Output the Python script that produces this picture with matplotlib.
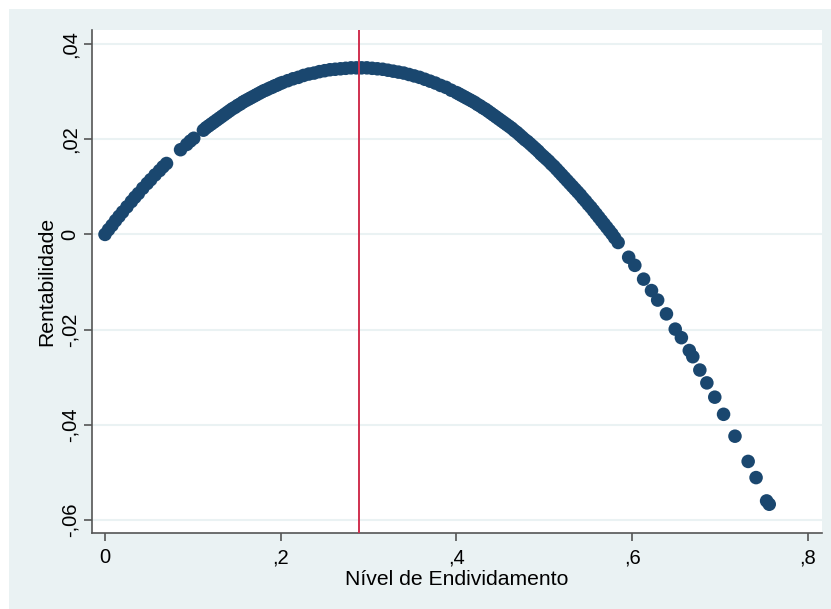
import matplotlib.pyplot as plt
from matplotlib.patches import Rectangle

# Nível de Endividamento (x) e Rentabilidade (y)
endividamento = [
    0.000, 0.004, 0.008, 0.012, 0.016, 0.020, 0.025, 0.030, 0.034, 0.038,
    0.043, 0.048, 0.052, 0.057, 0.062, 0.066, 0.070,
    0.086, 0.093, 0.097, 0.101,
    0.112, 0.118, 0.124, 0.130, 0.136, 0.142, 0.148, 0.154, 0.160, 0.166,
    0.172, 0.178, 0.184, 0.190, 0.196, 0.202, 0.208, 0.214, 0.220, 0.226,
    0.232, 0.238, 0.244, 0.250, 0.256, 0.262, 0.268, 0.274, 0.280, 0.286,
    0.292, 0.298, 0.304, 0.310, 0.316, 0.322, 0.328, 0.334, 0.340, 0.346,
    0.352, 0.358, 0.364, 0.370, 0.376, 0.382, 0.388, 0.394, 0.400, 0.406,
    0.412, 0.418, 0.424, 0.430, 0.436, 0.442, 0.448, 0.454, 0.460, 0.466,
    0.472, 0.478, 0.484, 0.490, 0.496, 0.502, 0.508, 0.514, 0.520, 0.526,
    0.532, 0.538, 0.544, 0.550, 0.556, 0.562, 0.568, 0.574, 0.580, 0.584,
    0.596, 0.603, 0.613, 0.622, 0.629, 0.639, 0.649, 0.656, 0.665, 0.669,
    0.677, 0.685, 0.694, 0.704, 0.717, 0.732, 0.741, 0.753, 0.756,
    # observações intermediárias nos trechos densos
    0.115, 0.121, 0.127, 0.133, 0.139, 0.145, 0.151, 0.157, 0.163, 0.169,
    0.175, 0.181, 0.187, 0.193, 0.199,
    0.403, 0.409, 0.415, 0.421, 0.427, 0.433, 0.439, 0.445, 0.451, 0.457,
    0.463, 0.469, 0.475, 0.481, 0.487, 0.493, 0.499, 0.505, 0.511, 0.517,
    0.523, 0.529, 0.535, 0.541, 0.547, 0.553, 0.559, 0.565, 0.571, 0.577,
]
rentabilidade = [
    0.0000, 0.0010, 0.0019, 0.0029, 0.0038, 0.0047, 0.0058, 0.0069, 0.0078, 0.0086,
    0.0097, 0.0107, 0.0115, 0.0125, 0.0134, 0.0142, 0.0149,
    0.0178, 0.0189, 0.0196, 0.0202,
    0.0219, 0.0228, 0.0236, 0.0244, 0.0252, 0.0260, 0.0267, 0.0274, 0.0281, 0.0287,
    0.0293, 0.0299, 0.0304, 0.0309, 0.0314, 0.0319, 0.0323, 0.0327, 0.0330, 0.0334,
    0.0337, 0.0339, 0.0342, 0.0344, 0.0346, 0.0347, 0.0348, 0.0349, 0.0350, 0.0350,
    0.0350, 0.0350, 0.0349, 0.0348, 0.0347, 0.0345, 0.0343, 0.0341, 0.0339, 0.0336,
    0.0333, 0.0330, 0.0326, 0.0322, 0.0318, 0.0313, 0.0309, 0.0303, 0.0298, 0.0292,
    0.0286, 0.0280, 0.0273, 0.0266, 0.0259, 0.0251, 0.0243, 0.0235, 0.0227, 0.0218,
    0.0209, 0.0199, 0.0190, 0.0180, 0.0169, 0.0159, 0.0148, 0.0137, 0.0125, 0.0113,
    0.0101, 0.0089, 0.0076, 0.0063, 0.0050, 0.0036, 0.0022, 0.0008, -0.0007, -0.0017,
    -0.0048, -0.0065, -0.0094, -0.0118, -0.0138, -0.0167, -0.0199, -0.0217, -0.0244, -0.0257,
    -0.0285, -0.0312, -0.0342, -0.0378, -0.0424, -0.0477, -0.0511, -0.0560, -0.0567,
    0.0224, 0.0232, 0.0240, 0.0248, 0.0256, 0.0264, 0.0271, 0.0278, 0.0284, 0.0290,
    0.0296, 0.0302, 0.0307, 0.0312, 0.0317,
    0.0295, 0.0289, 0.0283, 0.0277, 0.0270, 0.0263, 0.0255, 0.0247, 0.0239, 0.0231,
    0.0223, 0.0214, 0.0204, 0.0195, 0.0185, 0.0175, 0.0164, 0.0154, 0.0143, 0.0131,
    0.0119, 0.0107, 0.0095, 0.0083, 0.0070, 0.0057, 0.0043, 0.0029, 0.0015, 0.0001,
]

# Ponto de máximo (linha vertical)
x_max = 0.2886

x_ticks = [0, 0.2, 0.4, 0.6, 0.8]
x_labels = ['0', ',2', ',4', ',6', ',8']
y_ticks = [0.04, 0.02, 0, -0.02, -0.04, -0.06]
y_labels = [',04', ',02', '0', '-,02', '-,04', '-,06']

plt.rcParams['font.family'] = ['Liberation Sans', 'DejaVu Sans']

fig = plt.figure(figsize=(8.31, 6.09), dpi=100)
fig.patches.append(Rectangle((9 / 831, 0), 1 - 9 / 831, 1 - 9 / 609,
                             transform=fig.transFigure, facecolor='#EAF2F3',
                             edgecolor='none', zorder=-10))

ax = fig.add_axes([92 / 831, 1 - 533 / 609, (821.7 - 92) / 831, (533 - 30) / 609])
ax.set_facecolor('white')

ax.scatter(endividamento, rentabilidade, s=95, color='#1A476F',
           edgecolors='none', zorder=3)
ax.axvline(x_max, color='#D0304F', linewidth=1.4, zorder=4)

ax.set_xlim(-0.0148, 0.8157)
ax.set_ylim(-0.06274, 0.04295)

ax.set_xticks(x_ticks)
ax.set_xticklabels(x_labels)
ax.set_yticks(y_ticks)
ax.set_yticklabels(y_labels, rotation=90, va='center')

ax.yaxis.grid(True, color='#EAF2F3', linewidth=1.5, zorder=0)
ax.set_axisbelow(True)

for side in ['top', 'right']:
    ax.spines[side].set_visible(False)
for side in ['left', 'bottom']:
    ax.spines[side].set_color('#555555')
    ax.spines[side].set_linewidth(1.2)

ax.tick_params(axis='both', direction='out', length=6, width=1.2,
               color='#555555', labelsize=14.5, labelcolor='black')
ax.tick_params(axis='x', pad=5)
ax.tick_params(axis='y', pad=3)

ax.set_xlabel('Nível de Endividamento', fontsize=15.2, labelpad=2)
ax.set_ylabel('Rentabilidade', fontsize=15.2, labelpad=3)

fig.savefig('out.png', dpi=100)
